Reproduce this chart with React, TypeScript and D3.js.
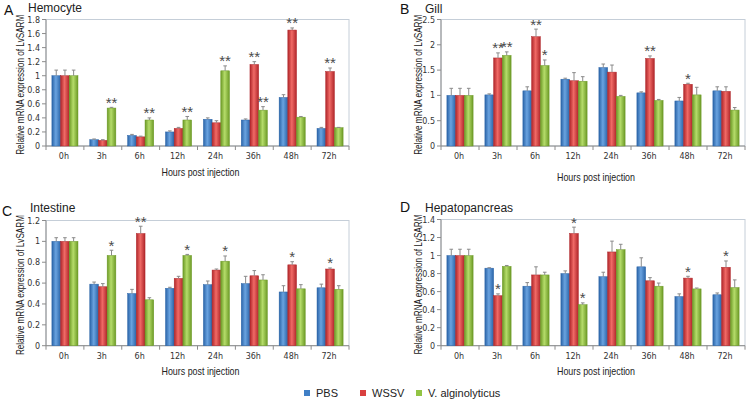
import React from "react";
import * as d3 from "d3";

const categories = ["0h", "3h", "6h", "12h", "24h", "36h", "48h", "72h"];
const seriesNames = ["PBS", "WSSV", "V. alginolyticus"];

// Panel A – Hemocyte
const hemoPBS = [1.0, 0.09, 0.15, 0.2, 0.38, 0.37, 0.69, 0.25];
const hemoWSSV = [1.0, 0.08, 0.13, 0.25, 0.33, 1.16, 1.65, 1.06];
const hemoVA = [1.0, 0.54, 0.37, 0.37, 1.07, 0.51, 0.41, 0.26];
const hemoErrPBS = [0.08, 0.01, 0.015, 0.015, 0.02, 0.015, 0.04, 0.015];
const hemoErrWSSV = [0.08, 0.01, 0.01, 0.015, 0.03, 0.04, 0.03, 0.05];
const hemoErrVA = [0.08, 0.01, 0.03, 0.05, 0.07, 0.05, 0.01, 0.005];
const hemoStars = [["", "", ""], ["", "", "**"], ["", "", "**"], ["", "", "**"], ["", "", "**"], ["", "**", "**"], ["", "**", ""], ["", "**", ""]];

// Panel B – Gill
const gillPBS = [1.0, 1.01, 1.09, 1.32, 1.55, 1.05, 0.89, 1.09];
const gillWSSV = [1.0, 1.74, 2.16, 1.29, 1.46, 1.73, 1.22, 1.08];
const gillVA = [1.0, 1.79, 1.59, 1.28, 0.98, 0.9, 1.01, 0.71];
const gillErrPBS = [0.14, 0.02, 0.08, 0.02, 0.07, 0.02, 0.07, 0.08];
const gillErrWSSV = [0.14, 0.1, 0.15, 0.16, 0.14, 0.05, 0.02, 0.09];
const gillErrVA = [0.14, 0.07, 0.11, 0.09, 0.02, 0.02, 0.15, 0.05];
const gillStars = [["", "", ""], ["", "**", "**"], ["", "**", "*"], ["", "", ""], ["", "", ""], ["", "**", ""], ["", "*", ""], ["", "", ""]];

// Panel C – Intestine
const intPBS = [1.0, 0.59, 0.5, 0.55, 0.585, 0.595, 0.515, 0.555];
const intWSSV = [1.0, 0.565, 1.075, 0.645, 0.725, 0.67, 0.775, 0.735];
const intVA = [1.0, 0.865, 0.44, 0.865, 0.81, 0.63, 0.545, 0.54];
const intErrPBS = [0.035, 0.02, 0.04, 0.01, 0.035, 0.07, 0.06, 0.035];
const intErrWSSV = [0.035, 0.03, 0.07, 0.02, 0.01, 0.05, 0.03, 0.01];
const intErrVA = [0.035, 0.05, 0.02, 0.01, 0.05, 0.05, 0.04, 0.035];
const intStars = [["", "", ""], ["", "", "*"], ["", "**", ""], ["", "", "*"], ["", "", "*"], ["", "", ""], ["", "*", ""], ["", "*", ""]];

// Panel D – Hepatopancreas
const hepPBS = [1.0, 0.86, 0.66, 0.8, 0.765, 0.875, 0.545, 0.565];
const hepWSSV = [1.0, 0.555, 0.785, 1.245, 1.04, 0.72, 0.75, 0.87];
const hepVA = [1.0, 0.88, 0.785, 0.455, 1.065, 0.66, 0.63, 0.645];
const hepErrPBS = [0.07, 0.005, 0.04, 0.03, 0.05, 0.1, 0.03, 0.02];
const hepErrWSSV = [0.07, 0.02, 0.09, 0.07, 0.12, 0.035, 0.02, 0.07];
const hepErrVA = [0.07, 0.01, 0.03, 0.02, 0.06, 0.035, 0.01, 0.085];
const hepStars = [["", "", ""], ["", "*", ""], ["", "", ""], ["", "*", "*"], ["", "", ""], ["", "", ""], ["", "*", ""], ["", "*", ""]];

const colors = [
  { edge: "#2a64a8", mid: "#6aa3e0", flat: "#3f7fc6" },
  { edge: "#b0262a", mid: "#f06a66", flat: "#d9403f" },
  { edge: "#6c9a26", mid: "#b5dc6a", flat: "#92c444" },
];

const FONT = "'Liberation Sans', Arial, sans-serif";
const NARROW = "'Liberation Sans Narrow', 'Liberation Sans', Arial, sans-serif";
const TICKFONT = "'DejaVu Sans', Verdana, sans-serif";

type PanelProps = {
  id: string;
  letter: string;
  title: string;
  x0: number; x1: number; yTop: number; yBot: number;
  yMax: number; yStep: number;
  values: number[][];
  errors: number[][];
  stars: string[][];
  xTitleY: number;
  yTitleX: number;
  letterX: number; letterY: number;
  titleX: number; titleY: number;
};

function Panel(p: PanelProps) {
  const x = d3.scaleBand<string>().domain(categories).range([p.x0, p.x1]).paddingInner(0).paddingOuter(0);
  const inner = d3.scaleBand<number>().domain([0, 1, 2]).range([5.9, x.bandwidth() - 5.9]).padding(0);
  const y = d3.scaleLinear().domain([0, p.yMax]).range([p.yBot, p.yTop]);
  const ticks = d3.range(0, p.yMax + p.yStep / 2, p.yStep);
  const fmt = (v: number) => String(+v.toFixed(1));
  const bw = inner.bandwidth();
  return (
    <g>
      <text x={p.letterX} y={p.letterY} fontFamily={FONT} fontSize={14} fill="#111">{p.letter}</text>
      <text x={p.titleX} y={p.titleY} fontFamily={FONT} fontSize={12} fill="#222">{p.title}</text>
      <rect x={p.x0} y={p.yTop} width={p.x1 - p.x0} height={p.yBot - p.yTop} fill="white" stroke="#c5ced8" strokeWidth={1} />
      <line x1={p.x0} x2={p.x0} y1={p.yTop} y2={p.yBot} stroke="#8c8c8c" />
      {ticks.map((t) => (
        <g key={t}>
          <line x1={p.x0 - 4} x2={p.x0} y1={y(t)} y2={y(t)} stroke="#8c8c8c" />
          <text x={p.x0 - 6} y={y(t) + 3} textAnchor="end" fontFamily={TICKFONT} fontSize={8} fill="#333">{fmt(t)}</text>
        </g>
      ))}
      <line x1={p.x0} x2={p.x1} y1={p.yBot} y2={p.yBot} stroke="#8c8c8c" />
      {categories.map((c, i) => (
        <g key={c}>
          <line x1={x(c)!} x2={x(c)!} y1={p.yBot} y2={p.yBot + 4} stroke="#8c8c8c" />
          {i === categories.length - 1 && (
            <line x1={x(c)! + x.bandwidth()} x2={x(c)! + x.bandwidth()} y1={p.yBot} y2={p.yBot + 4} stroke="#8c8c8c" />
          )}
          <text x={x(c)! + x.bandwidth() / 2 - 1} y={p.yBot + 13} textAnchor="middle" fontFamily={TICKFONT} fontSize={8} fill="#333">{c}</text>
        </g>
      ))}
      {categories.map((c, i) => (
        <g key={"b" + c}>
          {[0, 1, 2].map((s) => {
            const v = p.values[s][i];
            const e = p.errors[s][i];
            const bx = x(c)! + inner(s)!;
            const cx = bx + bw / 2;
            const errTop = y(v + e);
            const star = p.stars[i][s];
            return (
              <g key={s}>
                <rect x={bx} y={y(v)} width={bw} height={p.yBot - y(v)} fill={`url(#${p.id}-g${s})`} stroke={colors[s].edge} strokeWidth={0.5} />
                <line x1={cx} x2={cx} y1={y(v)} y2={errTop} stroke="#8a8a8a" strokeWidth={1} />
                <line x1={cx - 1.8} x2={cx + 1.8} y1={errTop} y2={errTop} stroke="#8a8a8a" strokeWidth={1} />
                {star && (
                  <text x={cx} y={errTop + 0.5} textAnchor="middle" fontFamily={FONT} fontSize={15} fill="#4a4a4a">{star}</text>
                )}
              </g>
            );
          })}
        </g>
      ))}
      <text
        transform={`translate(${p.yTitleX},${(p.yTop + p.yBot) / 2 + 2}) rotate(-90)`}
        textAnchor="middle"
        fontFamily={NARROW}
        fontSize={11}
        textLength={140}
        lengthAdjust="spacingAndGlyphs"
        fill="#222"
      >
        Relative mRNA expression of LvSARM
      </text>
      <text
        x={(p.x0 + p.x1) / 2 + 3}
        y={p.xTitleY}
        textAnchor="middle"
        fontFamily={NARROW}
        fontSize={11.5}
        textLength={78}
        lengthAdjust="spacingAndGlyphs"
        fill="#222"
      >
        Hours post injection
      </text>
    </g>
  );
}

export default function App() {
  const W = 750, H = 401;
  const panels: PanelProps[] = [
    { id: "A", letter: "A", title: "Hemocyte", x0: 46, x1: 349, yTop: 19.5, yBot: 146, yMax: 1.8, yStep: 0.2,
      values: [hemoPBS, hemoWSSV, hemoVA], errors: [hemoErrPBS, hemoErrWSSV, hemoErrVA], stars: hemoStars,
      xTitleY: 176, yTitleX: 24, letterX: 4, letterY: 15, titleX: 28, titleY: 12 },
    { id: "B", letter: "B", title: "Gill", x0: 441, x1: 745, yTop: 19.5, yBot: 146, yMax: 2.5, yStep: 0.5,
      values: [gillPBS, gillWSSV, gillVA], errors: [gillErrPBS, gillErrWSSV, gillErrVA], stars: gillStars,
      xTitleY: 181, yTitleX: 422, letterX: 400, letterY: 14, titleX: 425, titleY: 13 },
    { id: "C", letter: "C", title: "Intestine", x0: 46, x1: 349, yTop: 220.5, yBot: 345.7, yMax: 1.2, yStep: 0.2,
      values: [intPBS, intWSSV, intVA], errors: [intErrPBS, intErrWSSV, intErrVA], stars: intStars,
      xTitleY: 375, yTitleX: 24, letterX: 2, letterY: 216, titleX: 30, titleY: 212 },
    { id: "D", letter: "D", title: "Hepatopancreas", x0: 441, x1: 745, yTop: 219.5, yBot: 345.7, yMax: 1.4, yStep: 0.2,
      values: [hepPBS, hepWSSV, hepVA], errors: [hepErrPBS, hepErrWSSV, hepErrVA], stars: hepStars,
      xTitleY: 375, yTitleX: 422, letterX: 400, letterY: 212, titleX: 425, titleY: 212 },
  ];
  const legendX = [304, 360, 416];
  return (
    <svg width={W} height={H} style={{ position: "absolute", left: 0, top: 0, background: "white" }}>
      <defs>
        {panels.map((p) =>
          colors.map((c, s) => (
            <linearGradient key={p.id + s} id={`${p.id}-g${s}`} x1="0" x2="1" y1="0" y2="0">
              <stop offset="0%" stopColor={c.edge} />
              <stop offset="45%" stopColor={c.mid} />
              <stop offset="100%" stopColor={c.edge} />
            </linearGradient>
          ))
        )}
      </defs>
      <rect width={W} height={H} fill="white" />
      {panels.map((p) => (
        <Panel key={p.id} {...p} />
      ))}
      {seriesNames.map((n, i) => (
        <g key={n}>
          <rect x={legendX[i]} y={390} width={6} height={6} fill={colors[i].flat} />
          <text x={legendX[i] + 12} y={396.5} fontFamily={FONT} fontSize={11} fill="#222">{n}</text>
        </g>
      ))}
    </svg>
  );
}
